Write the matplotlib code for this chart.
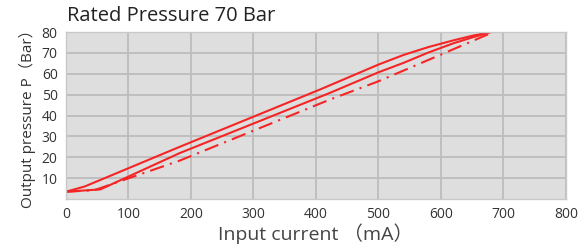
import matplotlib
matplotlib.use("Agg")
import matplotlib.pyplot as plt

plt.rcParams['font.family'] = ['Open Sans', 'Noto Sans CJK SC', 'DejaVu Sans']

# curve readings (current in mA, pressure in bar)
up_x = [0, 30, 182, 406, 500, 540, 580, 620, 650, 680]
up_y = [3.5, 6.0, 25.0, 52.4, 64.4, 69.0, 72.8, 76.0, 78.2, 80.0]

low_x = [0, 55, 182, 422, 500, 540, 580, 620, 650, 680]
low_y = [3.5, 4.6, 22.0, 50.8, 60.7, 65.2, 70.2, 74.6, 77.4, 80.0]

dash_x = [0, 45, 182, 422, 500, 600, 680]
dash_y = [3.5, 4.2, 18.4, 47.6, 56.4, 69.2, 79.5]

x_ticks = [0, 100, 200, 300, 400, 500, 600, 700, 800]
y_ticks = [10, 20, 30, 40, 50, 60, 70, 80]

red = '#f52525'

fig = plt.figure(figsize=(5.82, 2.5), dpi=100)
ax = fig.add_axes([0.1134, 0.204, 0.8591, 0.668])
ax.set_facecolor('#dedede')

ax.plot(up_x, up_y, color=red, lw=1.5)
ax.plot(low_x, low_y, color=red, lw=1.5)
ax.plot(dash_x, dash_y, color=red, lw=1.5, linestyle=(0, (7, 3, 1, 3)))

ax.set_xlim(0, 800)
ax.set_ylim(0, 80)
ax.set_xticks(x_ticks)
ax.set_yticks(y_ticks)
ax.grid(True, color='#bcbcbc', lw=1.3)
ax.set_axisbelow(True)
ax.tick_params(length=0, labelsize=10, colors='#333333', pad=6)
for s in ax.spines.values():
    s.set_color('#c8c8c8')
    s.set_linewidth(1.0)

ax.set_xlabel('Input current （mA）', fontsize=14, color='#444444', labelpad=1)
ax.set_ylabel('Output pressure P（Bar）', fontsize=11, color='#333333', labelpad=4)
fig.text(0.115, 0.935, 'Rated Pressure 70 Bar', fontsize=14.5, color='#222222',
         va='center', ha='left')

fig.savefig('out.png', dpi=100)
